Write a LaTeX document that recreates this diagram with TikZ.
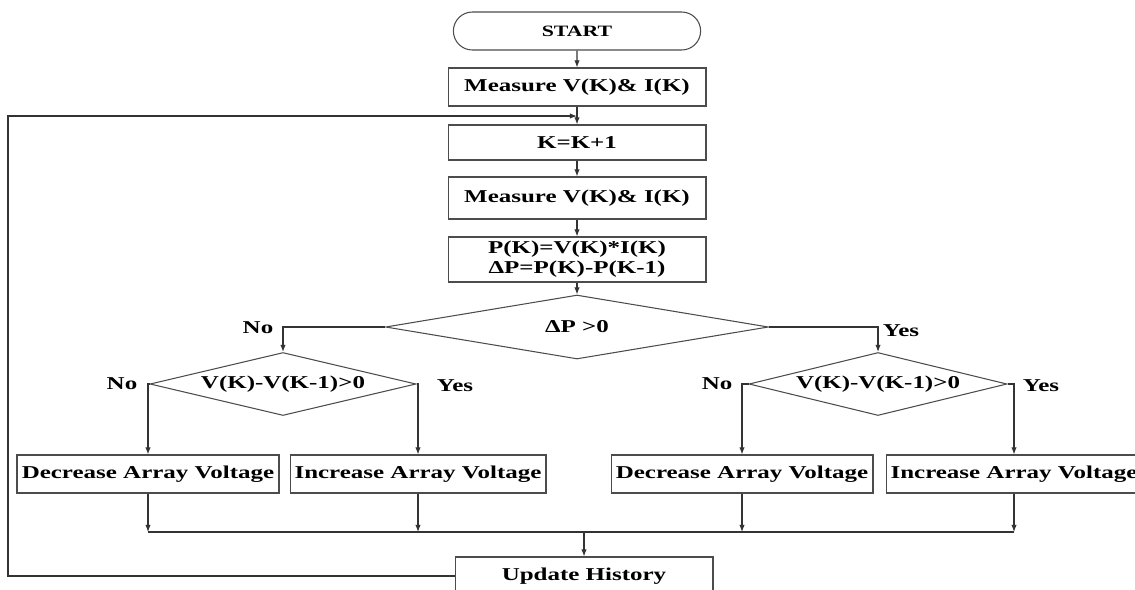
\documentclass[tikz,border=0pt]{standalone}
\usepackage{fontspec}
\setmainfont{Liberation Serif}[FakeStretch=1.38]
\usetikzlibrary{shapes.geometric,shapes.misc,arrows.meta}

\begin{document}
\begin{tikzpicture}[x=0.02cm,y=-0.02cm,
  every node/.style={font=\fontsize{10.3}{11.4}\selectfont\bfseries},
  box/.style={draw=black!70, line width=0.6pt, rectangle, inner sep=1pt,
    minimum width=5.16cm, minimum height=0.76cm},
  term/.style={draw=black!70, line width=0.6pt, rounded rectangle,
    minimum width=5.18cm, minimum height=0.76cm},
  decision/.style={draw=black!70, line width=0.6pt, diamond, inner sep=0pt},
  arr/.style={draw=black!80, line width=0.6pt, -{Latex[length=4pt,width=3pt]}},
  wire/.style={draw=black!80, line width=0.6pt}]
  \useasboundingbox (0,0) rectangle (1135,589);

  % Start and first steps
  \node[term] (start) at (577,31) {\fontsize{9}{10}\selectfont START};
  \node[box] (meas1) at (577,87) {Measure V(K)\& I(K)};
  \node[box, minimum height=0.7cm] (kinc) at (577,142.5) {K=K+1};
  \node[box, minimum height=0.84cm] (meas2) at (577,198) {Measure V(K)\& I(K)};
  \node[box, minimum height=0.9cm, align=center] (power) at (577,259.5)
    {P(K)=V(K)*I(K)\\ΔP=P(K)-P(K-1)};

  % Decisions
  \node[decision, aspect=6, minimum width=7.66cm, minimum height=1.28cm] (dp) at (577,327) {ΔP >0};
  \node[decision, aspect=4.2, minimum width=5.32cm, minimum height=1.26cm] (vl) at (283,384) {V(K)-V(K-1)>0};
  \node[decision, aspect=4.2, minimum width=5.16cm, minimum height=1.26cm] (vr) at (878,384) {V(K)-V(K-1)>0};

  % Branch labels
  \node (nobig) at (258,328) {No};
  \node (yesbig) at (901,331) {Yes};
  \node (nol) at (122,384) {No};
  \node (yesl) at (455,386) {Yes};
  \node (nor) at (717,384) {No};
  \node (yesr) at (1041,386) {Yes};

  % Actions
  \node[box, minimum width=5.24cm] (dec1) at (148,474) {Decrease Array Voltage};
  \node[box, minimum width=5.12cm] (inc1) at (418,474) {Increase Array Voltage};
  \node[box, minimum width=5.24cm] (dec2) at (742,474) {Decrease Array Voltage};
  \node[box, minimum width=5.12cm] (inc2) at (1014,474) {Increase Array Voltage};
  \node[box] (upd) at (584,576) {Update History};

  % Connectors
  \draw[arr] (start) -- (meas1);
  \draw[arr] (meas1) -- (kinc);
  \draw[arr] (kinc) -- (meas2);
  \draw[arr] (meas2) -- (power);
  \draw[arr] (power) -- (dp);
  \draw[arr] (dp.west) -| (vl.north);
  \draw[arr] (dp.east) -| (vr.north);
  \draw[arr] (vl.west) -| (dec1.north);
  \draw[arr] (vl.east) -| (inc1.north);
  \draw[arr] (vr.west) -| (dec2.north);
  \draw[arr] (vr.east) -| (inc2.north);

  % Join the four actions
  \coordinate (bus) at (0,532);
  \foreach \n in {dec1,inc1,dec2,inc2}
    \draw[arr] (\n.south) -- (\n.south |- bus);
  \draw[wire] (dec1.south |- bus) -- (inc2.south |- bus);
  \draw[arr] (upd.north |- bus) -- (upd.north);

  % Loop back
  \coordinate (lc) at (8,116);
  \coordinate (loopin) at (577,116);
  \draw[arr] (upd.west) -- (upd.west -| lc) |- (loopin);
\end{tikzpicture}
\end{document}
